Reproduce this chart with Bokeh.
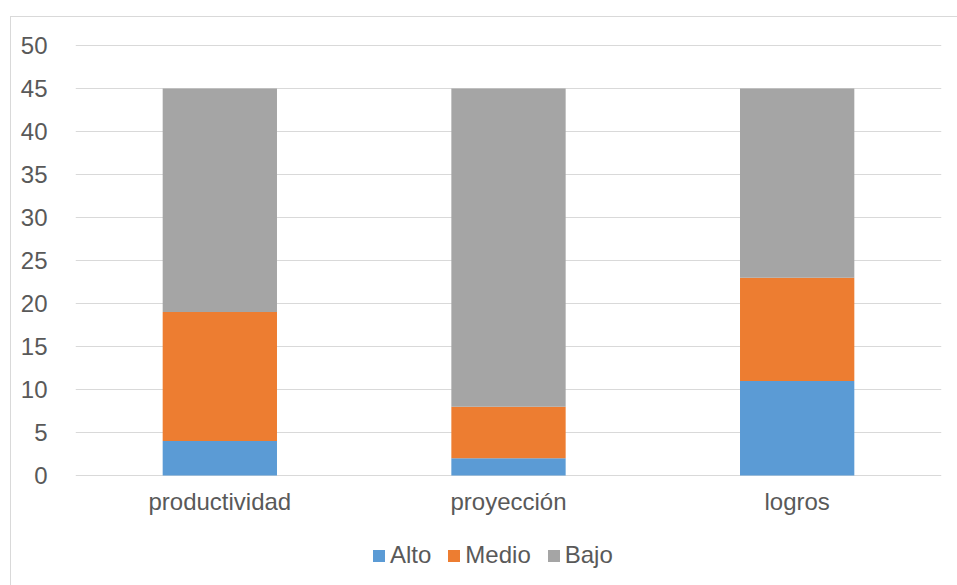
from bokeh.plotting import figure
from bokeh.models import Range1d, Legend, LegendItem, FixedTicker
from bokeh.embed import file_html
from bokeh.resources import INLINE

categories = ["productividad", "proyección", "logros"]
series = ["Alto", "Medio", "Bajo"]
alto = [4, 2, 11]
medio = [15, 6, 12]
bajo = [26, 37, 22]
colors = ["#5B9BD5", "#ED7D31", "#A5A5A5"]
y_ticks = [0, 5, 10, 15, 20, 25, 30, 35, 40, 45, 50]

data = {"cat": categories, "Alto": alto, "Medio": medio, "Bajo": bajo}

FONT = "Liberation Sans"
TXT = "#595959"

# frame spans page y 44..569; value 50 at y=45, value 0 at y=475
p = figure(x_range=categories, y_range=Range1d(-10.93, 50.116), width=947, height=569,
           output_backend="svg", toolbar_location=None,
           min_border_left=64, min_border_right=17, min_border_top=27, min_border_bottom=17)
p.margin = (16, 0, 0, 10)
p.styles = {"border-top": "1px solid #D9D9D9", "border-left": "1px solid #D9D9D9"}

rs = p.vbar_stack(series, x="cat", width=0.396, color=colors, line_color=None, source=data)

# category labels under the bars
p.text(x=categories, y=[0] * len(categories), text=categories,
       text_align="center", text_baseline="top", y_offset=12,
       text_font_size="24px", text_color=TXT, text_font={"value": FONT})

p.outline_line_color = None
p.xgrid.grid_line_color = None
p.ygrid.grid_line_color = "#D9D9D9"
p.ygrid.grid_line_width = 1
p.yaxis.ticker = FixedTicker(ticks=y_ticks)
p.xaxis.visible = False

ax = p.yaxis[0]
ax.axis_line_color = None
ax.major_tick_line_color = None
ax.minor_tick_line_color = None
ax.major_label_text_font = FONT
ax.major_label_text_font_size = "24px"
ax.major_label_text_color = TXT
ax.major_label_standoff = 22
p.x_range.range_padding = 0

legend = Legend(items=[LegendItem(label=s, renderers=[r]) for s, r in zip(series, rs)],
                orientation="horizontal", location=(296, 0),
                label_text_font=FONT, label_text_font_size="24px", label_text_color=TXT,
                glyph_width=15, glyph_height=15, label_standoff=4, spacing=15,
                border_line_color=None, background_fill_alpha=0, padding=0, margin=0)
p.add_layout(legend, "center")

open("out.html", "w").write(file_html(p, INLINE))
